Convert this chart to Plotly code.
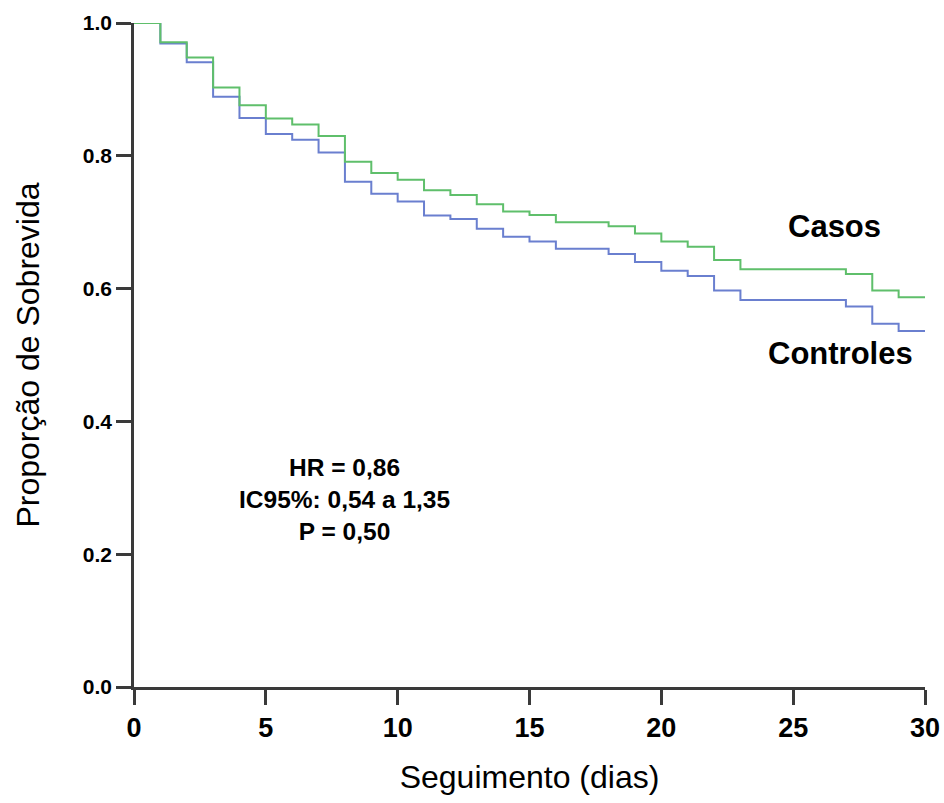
import plotly.graph_objects as go

# Kaplan-Meier step data
casos_t = [0, 1, 2, 3, 4, 5, 6, 7, 8, 9, 10, 11, 12, 13, 14, 15, 16, 18, 19, 20, 21, 22, 23, 27, 28, 29, 30]
casos_s = [1.0, 0.971, 0.948, 0.903, 0.876, 0.856, 0.847, 0.830, 0.791, 0.774, 0.764, 0.748, 0.741,
           0.727, 0.716, 0.711, 0.700, 0.694, 0.683, 0.671, 0.663, 0.643, 0.629, 0.622, 0.597, 0.587, 0.587]

controles_t = [0, 1, 2, 3, 4, 5, 6, 7, 8, 9, 10, 11, 12, 13, 14, 15, 16, 18, 19, 20, 21, 22, 23, 27, 28, 29, 30]
controles_s = [1.0, 0.969, 0.941, 0.889, 0.857, 0.833, 0.824, 0.805, 0.761, 0.743, 0.731, 0.710, 0.705,
               0.690, 0.678, 0.671, 0.660, 0.652, 0.640, 0.627, 0.619, 0.597, 0.583, 0.573, 0.547, 0.536, 0.536]

x_ticks = [0, 5, 10, 15, 20, 25, 30]
y_ticks = [0.0, 0.2, 0.4, 0.6, 0.8, 1.0]
y_tick_labels = ["0.0", "0.2", "0.4", "0.6", "0.8", "1.0"]

stats_text = "HR = 0,86<br>IC95%: 0,54 a 1,35<br>P = 0,50"

GREEN = "#5fbf6b"
BLUE = "#6a7fcf"
AXIS = "#3a3a3a"

fig = go.Figure()
fig.add_trace(go.Scatter(x=controles_t, y=controles_s, mode="lines", line_shape="hv",
                         line=dict(color=BLUE, width=2), name="Controles", showlegend=False))
fig.add_trace(go.Scatter(x=casos_t, y=casos_s, mode="lines", line_shape="hv",
                         line=dict(color=GREEN, width=2), name="Casos", showlegend=False))

fig.update_layout(
    width=944, height=803,
    margin=dict(l=134, r=19, t=23, b=116, autoexpand=False),
    paper_bgcolor="white", plot_bgcolor="white",
    font=dict(family="Liberation Sans, Arial, sans-serif", color="black"),
    xaxis=dict(range=[0, 30], tickvals=x_ticks, showgrid=False, zeroline=False,
               showline=True, linecolor=AXIS, linewidth=2.5,
               ticks="outside", ticklen=15, tickwidth=2.5, tickcolor=AXIS,
               tickfont=dict(size=27, family="Liberation Sans Narrow, Liberation Sans, Arial", weight="bold"),
               title=dict(text="Seguimento (dias)", font=dict(size=32), standoff=24)),
    yaxis=dict(range=[0, 1.0], tickvals=y_ticks, ticktext=y_tick_labels, showgrid=False, zeroline=False,
               showline=True, linecolor=AXIS, linewidth=2.5,
               ticks="outside", ticklen=15, tickwidth=2.5, tickcolor=AXIS,
               tickfont=dict(size=21, family="Liberation Sans, Arial", weight="bold"),
               title=dict(text="Proporção de Sobrevida", font=dict(size=32), standoff=34)),
)

fig.add_annotation(x=7.97, y=0.282, xref="x", yref="y", text=stats_text, showarrow=False,
                   font=dict(size=24.5, weight="bold"), align="center")
fig.add_annotation(x=26.56, y=0.693, xref="x", yref="y", text="Casos", showarrow=False,
                   font=dict(size=31, weight="bold"))
fig.add_annotation(x=26.8, y=0.503, xref="x", yref="y", text="Controles", showarrow=False,
                   font=dict(size=31, weight="bold"))

fig.write_html("out.html", config={"displayModeBar": False},
               post_script="document.body.style.margin='0px';")
